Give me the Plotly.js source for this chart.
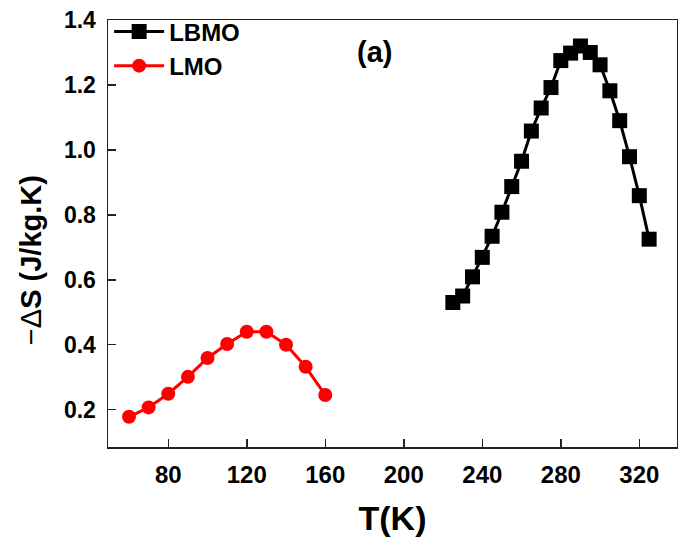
<!DOCTYPE html>
<html>
<head>
<meta charset="utf-8">
<script src="https://cdn.plot.ly/plotly-3.0.1.min.js"></script>
<style>
  html, body { margin: 0; padding: 0; background: #ffffff; }
  #chart { width: 678px; height: 537px; }
</style>
</head>
<body>
<div id="chart"></div>
<script>
// Data
const lbmoT = [225, 230, 235, 240, 245, 250, 255, 260, 265, 270, 275, 280, 285, 290, 295, 300, 305, 310, 315, 320, 325];
const lbmoS = [0.53, 0.55, 0.609, 0.669, 0.734, 0.808, 0.887, 0.965, 1.058, 1.129, 1.192, 1.275, 1.298, 1.32, 1.30, 1.262, 1.182, 1.09, 0.979, 0.859, 0.725];
const lmoT = [60, 70, 80, 90, 100, 110, 120, 130, 140, 150, 160];
const lmoS = [0.178, 0.207, 0.249, 0.301, 0.359, 0.402, 0.44, 0.44, 0.40, 0.332, 0.245];
const xTicks = [80, 120, 160, 200, 240, 280, 320];
const yTicks = [0.2, 0.4, 0.6, 0.8, 1.0, 1.2, 1.4];
const yTickText = ['0.2', '0.4', '0.6', '0.8', '1.0', '1.2', '1.4'];

const FONT = 'Liberation Sans, Arial, Helvetica, sans-serif';

const traces = [
  {
    x: lbmoT, y: lbmoS, name: 'LBMO', type: 'scatter', mode: 'lines+markers',
    line: { color: '#000000', width: 3 },
    marker: { symbol: 'square', size: 15, color: '#000000' }
  },
  {
    x: lmoT, y: lmoS, name: 'LMO', type: 'scatter', mode: 'lines+markers',
    line: { color: '#ff0000', width: 3 },
    marker: { symbol: 'circle', size: 14, color: '#ff0000' }
  }
];

const axisCommon = {
  showline: true, linecolor: '#222222', linewidth: 1.5, mirror: true,
  ticks: 'inside', ticklen: 8, tickwidth: 1.5, tickcolor: '#222222',
  showgrid: false, zeroline: false,
  tickfont: { family: FONT, size: 23, color: '#000000', weight: 'bold' }
};

const layout = {
  width: 678, height: 537,
  paper_bgcolor: '#ffffff', plot_bgcolor: '#ffffff',
  margin: { l: 108, r: 1, t: 20, b: 90 },
  showlegend: true,
  legend: {
    x: 0.002, y: 1.025, xanchor: 'left', yanchor: 'top',
    bgcolor: 'rgba(0,0,0,0)', borderwidth: 0,
    font: { family: FONT, size: 24, color: '#000000', weight: 'bold' },
    itemwidth: 50, tracegroupgap: 0
  },
  xaxis: Object.assign({}, axisCommon, {
    range: [49.3, 339.2],
    tickmode: 'array', tickvals: xTicks,
    ticklabelstandoff: 6,
    tickfont: { family: FONT, size: 24, color: '#000000', weight: 'bold' },
    title: { text: 'T(K)', font: { family: FONT, size: 34, color: '#000000', weight: 'bold' }, standoff: 24 }
  }),
  yaxis: Object.assign({}, axisCommon, {
    range: [0.085, 1.4],
    tickmode: 'array', tickvals: yTicks, ticktext: yTickText,
    ticklabelstandoff: 6
  }),
  annotations: [
    {
      text: '(a)', xref: 'paper', yref: 'paper', x: 0.469, y: 0.925,
      xanchor: 'center', yanchor: 'middle', showarrow: false,
      font: { family: FONT, size: 29, color: '#000000', weight: 'bold' }
    },
    {
      text: '−Δ<b>S (J/kg.K)</b>', xref: 'paper', yref: 'paper', x: -0.135, y: 0.438,
      xanchor: 'center', yanchor: 'middle', showarrow: false, textangle: -90,
      font: { family: FONT, size: 29, color: '#000000' }
    }
  ]
};

Plotly.newPlot('chart', traces, layout, { displayModeBar: false, staticPlot: true });
</script>
</body>
</html>
